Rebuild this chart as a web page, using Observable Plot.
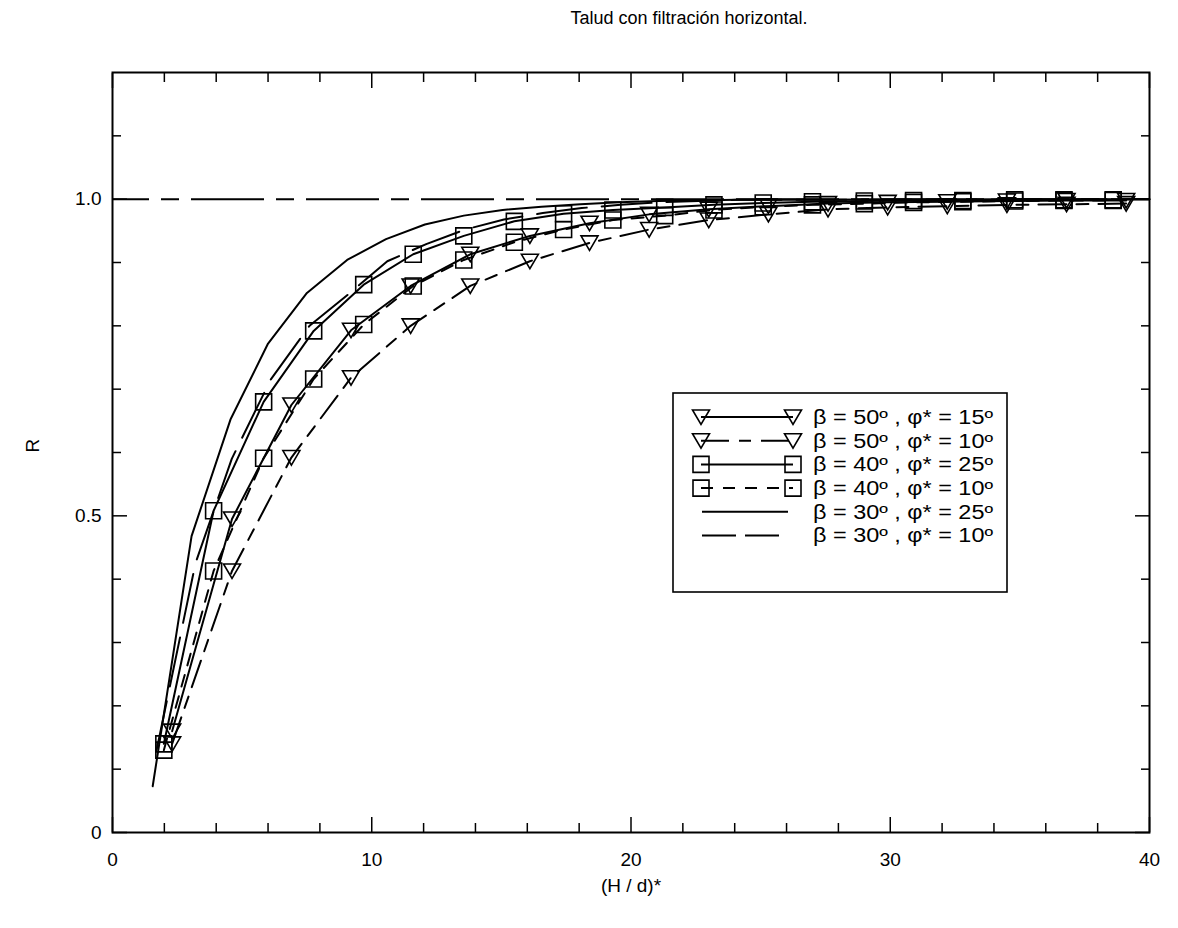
<!DOCTYPE html>
<html><head><meta charset="utf-8">
<script src="https://cdn.jsdelivr.net/npm/d3@7"></script>
<script src="https://cdn.jsdelivr.net/npm/@observablehq/plot@0.6"></script>
<style>
body{margin:0;background:#fff;font-family:"Liberation Sans",Arial,sans-serif;}
#wrap{position:relative;width:1178px;height:928px;background:#fff;}
#title{position:absolute;top:8px;left:689px;transform:translateX(-50%);font-size:18px;white-space:nowrap;color:#000;}
#chart{position:absolute;top:40px;left:0;}
#legend{position:absolute;left:672px;top:392px;}
</style></head><body>
<div id="wrap"><div id="title">Talud con filtración horizontal.</div><div id="chart"></div><div id="legend"></div></div>
<script>
// ---- data ----
const triX = [2.3, 4.61, 6.9, 9.2, 11.5, 13.8, 16.1, 18.4, 20.7, 23.0, 25.3, 27.6, 29.9, 32.2, 34.5, 36.8, 39.1];
const rB50F15 = [0.16, 0.495, 0.675, 0.793, 0.863, 0.913, 0.942, 0.962, 0.976, 0.984, 0.989, 0.993, 0.995, 0.996, 0.997, 0.998, 0.998];
const rB50F10 = [0.14, 0.413, 0.592, 0.718, 0.80, 0.863, 0.902, 0.931, 0.952, 0.967, 0.976, 0.984, 0.987, 0.989, 0.991, 0.992, 0.993];
const sqX = [1.98, 3.9, 5.83, 7.76, 9.69, 11.6, 13.55, 15.5, 17.4, 19.3, 21.3, 23.2, 25.1, 27.0, 29.0, 30.9, 32.8, 34.8, 36.7, 38.6];
const rB40F25 = [0.14, 0.508, 0.680, 0.792, 0.865, 0.913, 0.942, 0.965, 0.977, 0.983, 0.987, 0.991, 0.994, 0.996, 0.997, 0.998, 0.998, 0.999, 0.999, 0.999];
const rB40F10 = [0.13, 0.413, 0.591, 0.716, 0.802, 0.863, 0.904, 0.932, 0.952, 0.967, 0.974, 0.983, 0.988, 0.991, 0.993, 0.995, 0.996, 0.997, 0.998, 0.998];
const x30F25 = [1.55, 3.05, 4.55, 6.0, 7.5, 9.05, 10.55, 12.05, 13.55, 15.05, 16.55, 18.05, 19.55, 21.05, 22.55, 24.05, 40];
const rB30F25 = [0.073, 0.468, 0.652, 0.772, 0.852, 0.904, 0.937, 0.960, 0.974, 0.983, 0.988, 0.992, 0.995, 0.997, 0.998, 0.999, 1.0];
const x30F10 = [1.7, 3.2, 4.6, 6.1, 7.6, 9.1, 10.6, 12.1, 13.6, 15.1, 16.6, 18.1, 19.6, 21.1, 22.6, 24.1, 40];
const rB30F10 = [0.13, 0.425, 0.59, 0.715, 0.80, 0.85, 0.902, 0.929, 0.952, 0.968, 0.978, 0.986, 0.991, 0.995, 0.997, 0.999, 1.0];
const refR = [1.0];
const xMajor = [0, 10, 20, 30, 40];
const xMinor = [2, 4, 6, 8, 12, 14, 16, 18, 22, 24, 26, 28, 32, 34, 36, 38];
const yMajor = [0, 0.5, 1.0];
const yMinor = [0.1, 0.2, 0.3, 0.4, 0.6, 0.7, 0.8, 0.9, 1.1];
const seriesNames = ["β = 50º , φ* = 15º", "β = 50º , φ* = 10º", "β = 40º , φ* = 25º", "β = 40º , φ* = 10º", "β = 30º , φ* = 25º", "β = 30º , φ* = 10º"];

// ---- styles ----
const downTri = {draw(c){ c.moveTo(-8.5,-7); c.lineTo(8.5,-7); c.lineTo(0,7.5); c.closePath(); }};
const square = {draw(c){ c.moveTo(-8,-8); c.lineTo(8,-8); c.lineTo(8,8); c.lineTo(-8,8); c.closePath(); }};
const series = [
  {name: seriesNames[0], xs: triX, ys: rB50F15, dash: null, sym: downTri},
  {name: seriesNames[1], xs: triX, ys: rB50F10, dash: "28,10,12,10", sym: downTri},
  {name: seriesNames[2], xs: sqX, ys: rB40F25, dash: null, sym: square},
  {name: seriesNames[3], xs: sqX, ys: rB40F10, dash: "12,10", sym: square},
  {name: seriesNames[4], xs: x30F25, ys: rB30F25, dash: null, sym: null},
  {name: seriesNames[5], xs: x30F10, ys: rB30F10, dash: "50,15", sym: null}
];
const toRows = s => s.xs.map((x, i) => ({x, r: s.ys[i]}));

const marks = [
  Plot.ruleY(refR, {stroke: "#000", strokeWidth: 2, strokeDasharray: "73,12,18,12", strokeDashoffset: 36})
];
for (const s of series) {
  marks.push(Plot.line(toRows(s), {x: "x", y: "r", stroke: "#000", strokeWidth: 2, strokeDasharray: s.dash || undefined}));
  if (s.sym) marks.push(Plot.dot(toRows(s), {x: "x", y: "r", symbol: s.sym, fill: "none", stroke: "#000", strokeWidth: 1.6}));
}
const tk = {stroke: "#000", strokeWidth: 1.5, tickFormat: () => "", label: null};
marks.push(
  Plot.frame({stroke: "#000", strokeWidth: 2}),
  Plot.axisX({anchor: "bottom", ticks: xMinor, tickSize: -9, ...tk}),
  Plot.axisX({anchor: "bottom", ticks: xMajor, tickSize: -15, ...tk}),
  Plot.axisX({anchor: "top", ticks: xMinor, tickSize: -9, ...tk}),
  Plot.axisX({anchor: "top", ticks: xMajor, tickSize: -15, ...tk}),
  Plot.axisY({anchor: "left", ticks: yMinor, tickSize: -9, ...tk}),
  Plot.axisY({anchor: "left", ticks: yMajor, tickSize: -15, ...tk}),
  Plot.axisY({anchor: "right", ticks: yMinor, tickSize: -9, ...tk}),
  Plot.axisY({anchor: "right", ticks: yMajor, tickSize: -15, ...tk}),
  Plot.axisX({anchor: "bottom", ticks: xMajor, tickSize: 0, tickPadding: 20, tickFormat: d => String(d), fontSize: 19, label: null}),
  Plot.axisY({anchor: "left", ticks: yMajor, tickSize: 0, tickPadding: 11, tickFormat: d => d === 0 ? "0" : d.toFixed(1), fontSize: 19, label: null}),
  Plot.text(["(H / d)*"], {text: d => d, frameAnchor: "bottom", dy: 59, fontSize: 19, fill: "#000"}),
  Plot.text(["R"], {text: d => d, frameAnchor: "left", dx: -80, rotate: -90, fontSize: 19, fill: "#000"})
);

const plot = Plot.plot({
  width: 1178, height: 888,
  marginTop: 32, marginBottom: 96, marginLeft: 112, marginRight: 29,
  x: {domain: [0, 40]},
  y: {domain: [0, 1.2]},
  style: {fontFamily: "'Liberation Sans', Arial, sans-serif", color: "#000", background: "#fff"},
  marks
});
document.getElementById("chart").appendChild(plot);

// ---- legend ----
const W = 336, H = 201;
const lg = d3.select("#legend").append("svg").attr("width", W).attr("height", H)
  .style("font-family", "'Liberation Sans', Arial, sans-serif");
lg.append("rect").attr("x", 1).attr("y", 1).attr("width", W - 2).attr("height", H - 2)
  .attr("fill", "#fff").attr("stroke", "#000").attr("stroke-width", 1.6);
series.forEach((s, i) => {
  const y = 25 + i * 23.7;
  const x0 = 29, x1 = 121;
  lg.append("line").attr("x1", s.sym ? x0 : 30).attr("x2", s.sym ? x1 : 116).attr("y1", y).attr("y2", y)
    .attr("stroke", "#000").attr("stroke-width", 2)
    .attr("stroke-dasharray", s.sym ? s.dash : (s.dash ? "34,9" : null));
  if (s.sym) {
    for (const xx of [x0, x1]) {
      lg.append("path").attr("d", d3.symbol(s.sym)()).attr("transform", `translate(${xx},${y})`)
        .attr("fill", "none").attr("stroke", "#000").attr("stroke-width", 1.6);
    }
  }
  lg.append("text").attr("x", 141).attr("y", y).attr("dy", "0.35em").attr("font-size", 19.5)
    .attr("textLength", 180).attr("lengthAdjust", "spacingAndGlyphs").text(s.name);
});
</script>
</body></html>
